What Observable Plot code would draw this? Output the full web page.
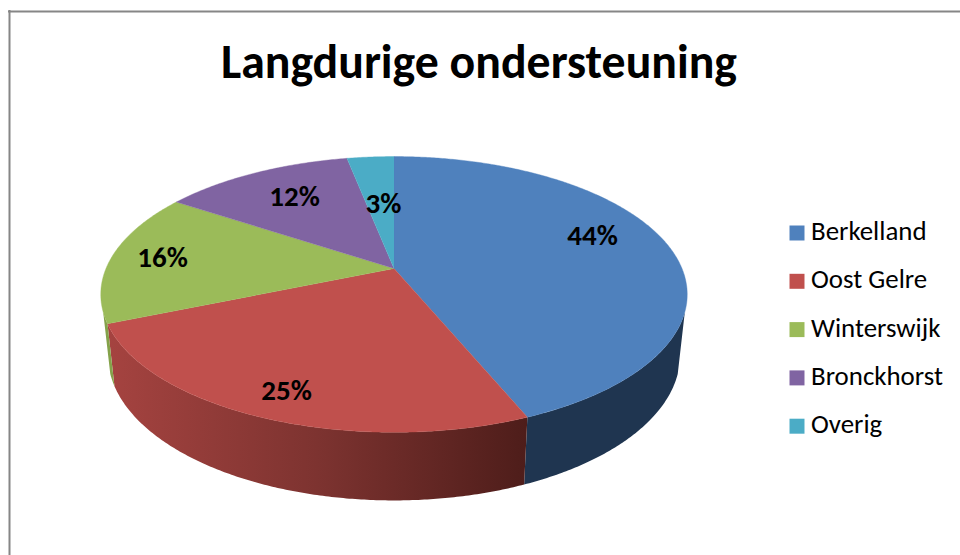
<!DOCTYPE html>
<html>
<head>
<meta charset="utf-8">
<style>
html,body{margin:0;padding:0;background:#fff;overflow:hidden}
svg{display:block}
</style>
<script src="https://cdn.jsdelivr.net/npm/d3@7"></script>
<script src="https://cdn.jsdelivr.net/npm/@observablehq/plot@0.6"></script>
</head>
<body>
<script>
// Data
const titleText = "Langdurige ondersteuning";
const categories = ["Berkelland", "Oost Gelre", "Winterswijk", "Bronckhorst", "Overig"];
const shares = [43.75, 24.95, 15.6, 12.6, 3.1];
const shareLabels = ["44%", "25%", "16%", "12%", "3%"];

// Styles and layout
const colors = ["#4F81BD", "#C0504D", "#9BBB59", "#8064A2", "#4BACC6"];
const sideFills = ["#1F3550", "url(#rimRed)", "#84A24A", "#5F4A78", "#36808F"];
const font = "Carlito, Calibri, Lato, sans-serif";
const labelAnchors = [[592, 235], [286, 390], [162, 257], [294, 196], [383, 203]];
const legendTop = 232.5, legendStep = 48.3;
const TOP = {cx: 393.5, cy: 268, a: 288, b: 133};
const BOTTOM = {cx: 393.5, cy: 327.5, a: 281, b: 140};
const K = 0.188;
const SIDE_FROM = 108, SIDE_TO = 252;

// Perspective view of the disc: degrees clockwise from the top of the pie.
function rim(face, deg) {
  const t = deg * Math.PI / 180, u = Math.sin(t), v = -Math.cos(t), w = 1 - K * v;
  return {x: face.cx + face.a * u / w, y: face.cy + face.b * v / w};
}

const cumulative = d3.cumsum(shares);
const total = cumulative[cumulative.length - 1];
const slices = categories.map((name, i) => ({
  name, color: colors[i], side: sideFills[i], label: shareLabels[i],
  start: (i ? cumulative[i - 1] : 0) / total * 360,
  end: cumulative[i] / total * 360
}));

function arc(face, from, to) {
  const n = Math.max(2, Math.ceil(Math.abs(to - from)) * 2);
  return d3.range(n + 1).map(j => rim(face, from + (to - from) * j / n));
}

// Top faces
const topPoints = slices.flatMap(s =>
  [{x: TOP.cx, y: TOP.cy}, ...arc(TOP, s.start, s.end)].map(p => ({...p, name: s.name, fill: s.color}))
);

// Side wall
const sidePoints = slices.flatMap(s => {
  const from = Math.max(s.start, SIDE_FROM), to = Math.min(s.end, SIDE_TO);
  if (from >= to) return [];
  return [...arc(TOP, from, to), ...arc(BOTTOM, to, from)].map(p => ({...p, name: s.name, fill: s.side}));
});

// Horizontal shading of the red wall, defined inside the plot's own SVG
const rimGradient = () => {
  const defs = d3.create("svg:defs");
  const g = defs.append("linearGradient").attr("id", "rimRed")
    .attr("gradientUnits", "userSpaceOnUse")
    .attr("x1", 108).attr("x2", 526).attr("y1", 0).attr("y2", 0);
  g.append("stop").attr("offset", 0).attr("stop-color", "rgb(165,67,64)");
  g.append("stop").attr("offset", 0.5).attr("stop-color", "rgb(125,51,48)");
  g.append("stop").attr("offset", 1).attr("stop-color", "rgb(78,29,26)");
  return defs.node();
};

const chart = Plot.plot({
  width: 960, height: 555,
  margin: 0,
  style: {fontFamily: font, background: "#fff", color: "#000"},
  x: {domain: [0, 960], range: [0, 960], axis: null},
  y: {domain: [0, 555], range: [0, 555], axis: null},
  color: {type: "identity"},
  marks: [
    rimGradient,
    // Chart frame
    Plot.ruleX([9], {y1: 10, y2: 555, stroke: "#868686", strokeWidth: 2, strokeOpacity: 1}),
    Plot.ruleY([11], {x1: 8, x2: 960, stroke: "#868686", strokeWidth: 2, strokeOpacity: 1}),
    // Pie
    Plot.line(sidePoints, {x: "x", y: "y", z: "name", fill: "fill", stroke: "none", curve: "linear"}),
    Plot.line(topPoints, {x: "x", y: "y", z: "name", fill: "fill", stroke: "fill", strokeWidth: 0.4, curve: "linear"}),
    // Percentages
    Plot.text(slices, {
      x: (d, i) => labelAnchors[i][0], y: (d, i) => labelAnchors[i][1],
      text: "label", fontSize: 29, fontWeight: "bold", fill: "#000", textAnchor: "middle"
    }),
    // Title
    Plot.text([titleText], {x: () => 478.5, y: () => 62, text: d => d, fontSize: 47.8, fontWeight: "bold", fill: "#000", textAnchor: "middle"}),
    // Legend
    Plot.dot(slices, {x: () => 796.5, y: (d, i) => legendTop + i * legendStep, symbol: "square", r: 8.46, fill: "color", stroke: "none"}),
    Plot.text(slices, {x: () => 810.5, y: (d, i) => legendTop - 1.5 + i * legendStep, text: "name", fontSize: 26.9, fill: "#000", textAnchor: "start"})
  ]
});
document.body.appendChild(chart);
</script>
</body>
</html>
